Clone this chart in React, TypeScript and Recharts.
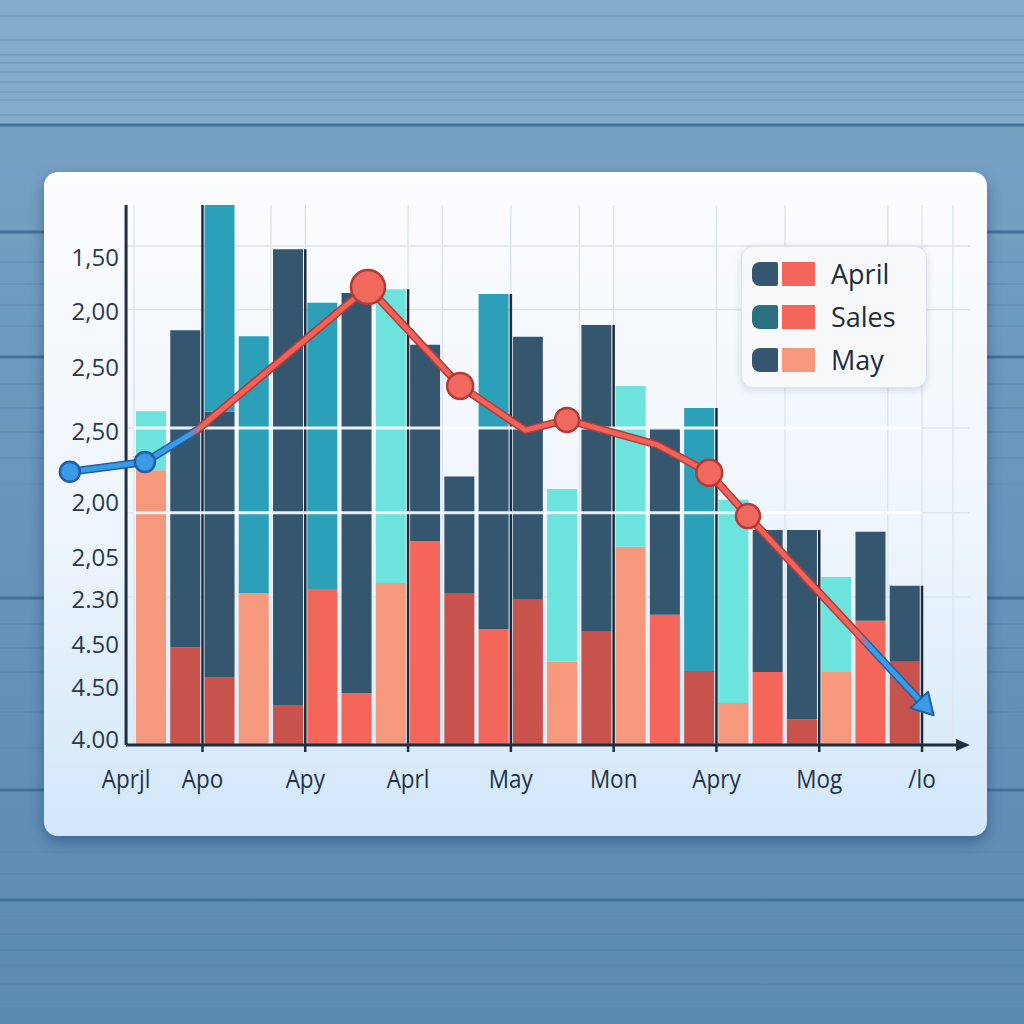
import React from "react";
import {
  ComposedChart,
  Bar,
  Line,
  XAxis,
  YAxis,
  CartesianGrid,
  ReferenceLine,
  Legend,
  Cell,
} from "recharts";

// bar slots along the x axis, three stacked pieces per bar
const barX = [1, 2, 3, 4, 5, 6, 7, 8, 9, 10, 11, 12, 13, 14, 15, 16, 17, 18, 19, 20, 21, 22, 23];
const lowValues = [50.9, 18.1, 12.6, 28.1, 7.4, 28.9, 9.6, 30.0, 37.8, 28.0, 21.5, 26.9, 15.4, 21.1, 36.7, 24.1, 13.7, 7.8, 13.5, 4.8, 13.5, 23.0, 15.4];
const midValues = [10.9, 58.7, 49.1, 47.6, 84.4, 53.0, 74.1, 54.4, 36.3, 21.7, 37.2, 48.7, 32.0, 56.7, 29.8, 34.6, 48.7, 37.6, 26.3, 35.0, 17.6, 16.5, 14.1];
const topValues = [0, 0, 38.3, 0, 0, 0, 0, 0, 0, 0, 24.8, 0, 0, 0, 0, 0, 0, 0, 0, 0, 0, 0, 0];

// trend line vertices
const lineX = [-1.37, 0.82, 2.34, 7.33, 10.02, 11.92, 13.14, 15.77, 17.29, 18.42, 23.5];
const lineY = [50.6, 52.4, 58.3, 84.8, 66.5, 58.3, 60.2, 55.6, 50.4, 42.4, 7.8];

const yTickValues = [1, 10.6, 18.5, 26.9, 34.6, 44.8, 58, 69.8, 80.2, 90.2];
const yTickLabels = ["4.00", "4.50", "4.50", "2.30", "2,05", "2,00", "2,50", "2,50", "2,00", "1,50"];

const xTickValues = [0.27, 2.5, 5.5, 8.5, 11.5, 14.5, 17.5, 20.5, 23.5];
const xTickLabels = ["Aprjl", "Apo", "Apy", "Aprl", "May", "Mon", "Apry", "Mog", "/lo"];

const gridYValues = [27.4, 43.0, 58.7, 80.6, 92.4];
const whiteLineValues = [43.0, 58.7];
const gridXValues = [0.5, 4.5, 5.5, 8.5, 9.5, 11.5, 13.5, 14.5, 17.5, 19.5, 22.5, 23.5, 24.4];

const legendLabels = ["April", "Sales", "May"];

// styles
const palette: Record<string, string> = {
  navy: "#35566f",
  teal: "#2ba0b8",
  cyan: "#6de3de",
  salmon: "#f5987c",
  brick: "#c8524c",
  coral: "#f4665a",
};
const lowTone = ["salmon", "brick", "brick", "salmon", "brick", "coral", "coral", "salmon", "coral", "brick", "coral", "brick", "salmon", "brick", "salmon", "coral", "brick", "salmon", "coral", "brick", "salmon", "coral", "brick"];
const midTone = ["cyan", "navy", "navy", "teal", "navy", "teal", "navy", "cyan", "navy", "navy", "navy", "navy", "cyan", "navy", "cyan", "navy", "teal", "cyan", "navy", "navy", "cyan", "navy", "navy"];
const topTone = "teal";
const legendSwatches = [
  ["#35566f", "#f4665a"],
  ["#2b6f80", "#f4665a"],
  ["#35566f", "#f5987c"],
];
const markers: Record<number, { r: number; tone: "blue" | "red" }> = {
  0: { r: 10, tone: "blue" },
  1: { r: 10, tone: "blue" },
  3: { r: 17, tone: "red" },
  4: { r: 13, tone: "red" },
  6: { r: 12, tone: "red" },
  8: { r: 13, tone: "red" },
  9: { r: 12, tone: "red" },
};

const FONT = "'Open Sans', 'Noto Sans', sans-serif";
const INK = "#1f2f3f";
const X_DOMAIN: [number, number] = [-1.95, 24.9];

const barRows = barX.map((x, i) => ({
  x,
  low: lowValues[i],
  mid: midValues[i],
  top: topValues[i],
}));
const lineRows = lineX.map((x, i) => ({ x, y: lineY[i] }));
const totals = barX.map((_, i) => lowValues[i] + midValues[i] + topValues[i]);
// dark separators at the labelled boundaries, as tall as the taller neighbour
const separators = xTickValues.slice(1).map((b) => {
  const left = Math.floor(b) - 1;
  const right = left + 1;
  const h = Math.max(totals[left] ?? 0, totals[right] ?? 0);
  return { x: b, h };
});

const stripeStrong = [125, 232, 357, 598, 790, 900];
const stripeLight = [16, 40, 55, 63, 72, 82, 92, 100, 115, 262, 284, 305, 326, 384, 408, 432, 458, 484, 624, 648, 672, 712, 748, 852, 874, 916, 934, 950, 966, 984, 1004];

function Backdrop() {
  return (
    <svg width={1024} height={1024} style={{ position: "absolute", left: 0, top: 0 }}>
      <defs>
        <linearGradient id="bg" x1="0" y1="0" x2="0" y2="1">
          <stop offset="0" stopColor="#7ca6c6" />
          <stop offset="0.5" stopColor="#6893bb" />
          <stop offset="1" stopColor="#5d8ab3" />
        </linearGradient>
      </defs>
      <rect width={1024} height={1024} fill="url(#bg)" />
      <rect width={1024} height={125} fill="#84adcb" />
      {stripeLight.map((y) => (
        <line key={"l" + y} x1={0} x2={1024} y1={y} y2={y} stroke="#4f7ba2" strokeOpacity={0.35} strokeWidth={1.5} />
      ))}
      {stripeStrong.map((y) => (
        <line key={"s" + y} x1={0} x2={1024} y1={y} y2={y} stroke="#44709a" strokeWidth={3} />
      ))}
    </svg>
  );
}

function YTick(props: any) {
  const { x, y, index } = props;
  return (
    <text x={x + 69} y={y} dy={8} textAnchor="end" fontSize={24} fill="#2a3a4b" fontFamily={FONT}>
      {yTickLabels[index]}
    </text>
  );
}

function XTick(props: any) {
  const { x, y, index } = props;
  return (
    <g>
      {index > 0 && <line x1={x} x2={x} y1={y} y2={y + 7} stroke={INK} strokeWidth={2.5} />}
      <text
        transform={`translate(${x},${y + 43}) scale(0.9,1)`}
        textAnchor="middle"
        fontSize={25}
        fill="#1f3346"
        fontFamily={FONT}
      >
        {xTickLabels[index]}
      </text>
    </g>
  );
}

function AxisArrow(props: any) {
  const { x1, y1, x2, y2 } = props;
  return (
    <g>
      <line x1={x1} y1={y1} x2={x2 - 8} y2={y2} stroke={INK} strokeWidth={3} />
      <polygon points={`${x2},${y2} ${x2 - 14},${y2 - 6} ${x2 - 14},${y2 + 6}`} fill={INK} />
    </g>
  );
}

function LineDot(props: any) {
  const { cx, cy, index } = props;
  if (cx == null || cy == null) return <g key={index} />;
  if (index === lineX.length - 1) {
    return (
      <g key={index} transform={`translate(${cx},${cy}) rotate(47)`}>
        <polygon points="17,0 -4,-12 -4,12" fill="#3a9be6" stroke="#1f5fa8" strokeWidth={2} strokeLinejoin="round" />
      </g>
    );
  }
  const m = markers[index];
  if (!m) return <g key={index} />;
  const fill = m.tone === "blue" ? "#3a9be6" : "#f0685e";
  const stroke = m.tone === "blue" ? "#1f5fa8" : "#b33b35";
  return <circle key={index} cx={cx} cy={cy} r={m.r} fill={fill} stroke={stroke} strokeWidth={2.5} />;
}

function LegendBox() {
  return (
    <div
      style={{
        width: 186,
        height: 142,
        boxSizing: "border-box",
        background: "#f7f9fb",
        border: "1px solid #e1e6ec",
        borderRadius: 12,
        boxShadow: "0 2px 8px rgba(60,80,110,0.18)",
        paddingTop: 5,
        fontFamily: FONT,
      }}
    >
      {legendLabels.map((label, i) => (
        <div key={label} style={{ display: "flex", alignItems: "center", height: 43, paddingLeft: 10 }}>
          <div style={{ width: 26, height: 24, background: legendSwatches[i][0], borderRadius: "8px 2px 2px 8px" }} />
          <div style={{ width: 33, height: 24, background: legendSwatches[i][1], marginLeft: 4 }} />
          <span style={{ marginLeft: 16, fontSize: 27, color: "#1d2c3b" }}>{label}</span>
        </div>
      ))}
    </div>
  );
}

export default function App() {
  return (
    <div style={{ position: "absolute", left: 0, top: 0, width: 1024, height: 1024, overflow: "hidden" }}>
      <Backdrop />
      <div
        style={{
          position: "absolute",
          left: 44,
          top: 172,
          width: 943,
          height: 664,
          borderRadius: 14,
          background: "linear-gradient(180deg, #fcfdff 0%, #eef5fc 55%, #d2e7fa 100%)",
          boxShadow: "0 6px 14px rgba(25,55,95,0.45)",
        }}
      />
      <div style={{ position: "absolute", left: 0, top: 0 }}>
        <ComposedChart
          width={1024}
          height={1024}
          data={barRows}
          margin={{ top: 205, right: 54, bottom: 239, left: 0 }}
        >
          <defs>
            <linearGradient id="lineStroke" x1="0" y1="0" x2="1" y2="0">
              <stop offset="0.14" stopColor="#3a9be6" />
              <stop offset="0.155" stopColor="#f0625a" />
              <stop offset="0.925" stopColor="#f0625a" />
              <stop offset="0.94" stopColor="#3a9be6" />
            </linearGradient>
            <linearGradient id="lineEdge" x1="0" y1="0" x2="1" y2="0">
              <stop offset="0.14" stopColor="#1f5fa8" />
              <stop offset="0.155" stopColor="#b33b35" />
              <stop offset="0.925" stopColor="#b33b35" />
              <stop offset="0.94" stopColor="#1f5fa8" />
            </linearGradient>
          </defs>
          <CartesianGrid stroke="#dfe6ee" strokeWidth={1.5} horizontal={false} verticalValues={gridXValues} />
          {/* numeric axis: labels, line and guides */}
          <XAxis
            type="number"
            dataKey="x"
            domain={X_DOMAIN}
            allowDataOverflow
            ticks={xTickValues}
            interval={0}
            axisLine={false}
            tickLine={false}
            tickSize={0}
            tickMargin={0}
            height={40}
            tick={<XTick />}
          />
          {/* category axis for the bars, padded so slot n sits at numeric n */}
          <XAxis
            xAxisId="cat"
            type="category"
            dataKey="x"
            hide
            padding={{ left: 84, right: 48 }}
          />
          <YAxis
            type="number"
            domain={[0, 100]}
            allowDataOverflow
            ticks={yTickValues}
            interval={0}
            axisLine={false}
            tickLine={false}
            tickSize={0}
            tickMargin={0}
            width={50}
            tick={<YTick />}
          />
          {gridYValues.map((v) => (
            <ReferenceLine
              key={"g" + v}
              segment={[{ x: 0.27, y: v }, { x: X_DOMAIN[1], y: v }]}
              stroke="#dfe6ee"
              strokeWidth={1.5}
              zIndex={-90}
            />
          ))}
          <Bar xAxisId="cat" dataKey="low" stackId="s" barSize={30} isAnimationActive={false}>
            {barRows.map((_, i) => (
              <Cell key={i} fill={palette[lowTone[i]]} />
            ))}
          </Bar>
          <Bar xAxisId="cat" dataKey="mid" stackId="s" barSize={30} isAnimationActive={false}>
            {barRows.map((_, i) => (
              <Cell key={i} fill={palette[midTone[i]]} />
            ))}
          </Bar>
          <Bar xAxisId="cat" dataKey="top" stackId="s" barSize={30} fill={palette[topTone]} isAnimationActive={false} />
          {separators.map((s) => (
            <ReferenceLine
              key={"sep" + s.x}
              segment={[{ x: s.x, y: 0 }, { x: s.x, y: s.h }]}
              stroke="#1c2c3b"
              strokeWidth={2.5}
              zIndex={350}
            />
          ))}
          {whiteLineValues.map((v) => (
            <ReferenceLine
              key={"w" + v}
              segment={[{ x: 0.5, y: v }, { x: 23.5, y: v }]}
              stroke="#ffffff"
              strokeOpacity={0.9}
              strokeWidth={3}
              zIndex={360}
            />
          ))}
          <ReferenceLine
            segment={[{ x: 0.27, y: 0 }, { x: 0.27, y: 100 }]}
            stroke={INK}
            strokeWidth={3}
            zIndex={370}
          />
          <ReferenceLine
            segment={[{ x: 0.27, y: 0 }, { x: X_DOMAIN[1], y: 0 }]}
            shape={<AxisArrow />}
            zIndex={370}
          />
          <Line
            data={lineRows}
            dataKey="y"
            type="linear"
            stroke="url(#lineEdge)"
            strokeWidth={8}
            dot={false}
            activeDot={false}
            isAnimationActive={false}
            legendType="none"
          />
          <Line
            data={lineRows}
            dataKey="y"
            type="linear"
            stroke="url(#lineStroke)"
            strokeWidth={5}
            dot={LineDot}
            activeDot={false}
            isAnimationActive={false}
            legendType="none"
          />
          <Legend
            align="center"
            verticalAlign="middle"
            content={() => <LegendBox />}
            wrapperStyle={{ left: 741, top: 246, width: 186, height: 142 }}
          />
        </ComposedChart>
      </div>
    </div>
  );
}
